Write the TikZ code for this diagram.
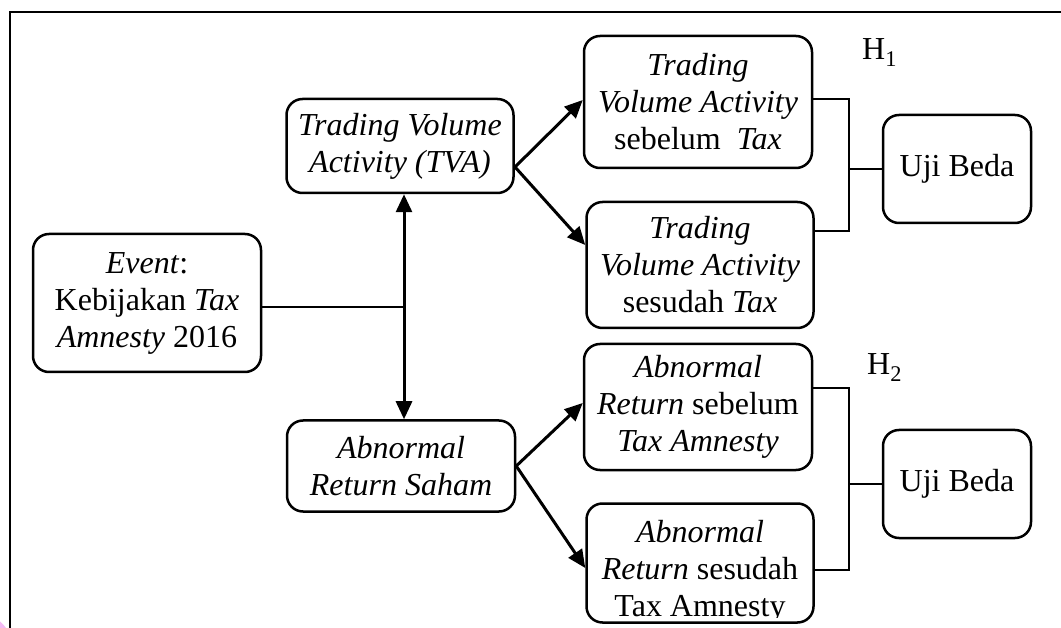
\documentclass[tikz,border=0pt]{standalone}
\usepackage{fontspec}
\setmainfont{Liberation Serif}
\usetikzlibrary{arrows.meta}
\definecolor{blobpink}{RGB}{243,185,243}
\begin{document}
\begin{tikzpicture}[x=1pt,y=-1pt,
  box/.style={draw, line width=2.5pt, rounded corners=16pt, align=center,
              font=\fontsize{32}{37}\selectfont, inner sep=0pt},
  txt/.style={align=center, font=\fontsize{32}{37}\selectfont, inner sep=0pt},
  conn/.style={line width=2.2pt},
  arr/.style={line width=3pt, -{Triangle[length=18pt,width=16pt]}},
  darr/.style={line width=3pt, {Triangle[length=18pt,width=16pt]}-{Triangle[length=18pt,width=16pt]}},
  lbl/.style={font=\fontsize{32}{36}\selectfont, inner sep=0pt},
  frame/.style={line width=2.2pt}]
\clip (0,0) rectangle (1061,628);
\fill[white] (0,0) rectangle (1061,628);
% faint blob at bottom-left corner
\fill[blobpink] (-25,650) circle (38);
% outer frame
\draw[frame] (10,660) -- (10,12) -- (1080,12);

% nodes
\node[box, minimum width=228pt, minimum height=138pt] (ev) at (147,303)
  {\textit{Event}:\\Kebijakan \textit{Tax}\\\textit{Amnesty} 2016};
\node[box, minimum width=227pt, minimum height=94pt] (tva) at (400,146)
  {\textit{Trading Volume}\\\textit{Activity (TVA)}};
\node[box, minimum width=228pt, minimum height=91pt] (ars) at (401,466)
  {\textit{Abnormal}\\\textit{Return Saham}};
\node[box, minimum width=228pt, minimum height=132pt] (tvb) at (698,102)
  {\textit{Trading}\\\textit{Volume Activity}\\sebelum\ \ \textit{Tax}};
\node[box, minimum width=227pt, minimum height=126pt] (tvs) at (700,265)
  {\textit{Trading}\\\textit{Volume Activity}\\sesudah \textit{Tax}};
\node[box, minimum width=228pt, minimum height=126pt] (arb) at (698,407)
  {\textit{Abnormal}\\\textit{Return} sebelum\\\textit{Tax Amnesty}};
\node[box, minimum width=227pt, minimum height=119pt] (ard) at (700,563) {};
\begin{scope}
  \clip (580,500) rectangle (820,617);
  \node[txt] (ardt) at (700,572)
    {\textit{Abnormal}\\\textit{Return} sesudah\\Tax Amnesty};
\end{scope}
\node[box, minimum width=148pt, minimum height=108pt] (u1) at (957,169) {Uji Beda};
\node[box, minimum width=148pt, minimum height=108pt] (u2) at (957,484) {Uji Beda};

\node[lbl, anchor=base west] (h1) at (862,60) {H\textsubscript{1}};
\node[lbl, anchor=base west] (h2) at (867,375) {H\textsubscript{2}};

% junction coordinates
\coordinate (jn) at (404,307);
\coordinate (tvo) at (515,167);
\coordinate (b1) at (849,169);
\coordinate (b2) at (849,484);

% connectors
\draw[conn] (jn -| ev.east) -- (jn);
\draw[darr] (jn |- tva.south) -- (jn |- ars.north);
\draw[arr] (tvo) -- ([yshift=2pt]tvb.west);
\draw[arr] (tvo) -- ([yshift=20pt]tvs.west);
\draw[arr] (ars.east) -- ([yshift=4pt]arb.west);
\draw[arr] (ars.east) -- ([yshift=-5pt]ard.west);

\draw[conn] ([yshift=3pt]tvb.east) -| (b1);
\draw[conn] ([yshift=34pt]tvs.east) -| (b1);
\draw[conn] (b1) -- (u1.west);
\draw[conn] ([yshift=19pt]arb.east) -| (b2);
\draw[conn] ([yshift=-7pt,xshift=-2pt]ard.east) -| (b2);
\draw[conn] (b2) -- (u2.west);
\end{tikzpicture}
\end{document}
